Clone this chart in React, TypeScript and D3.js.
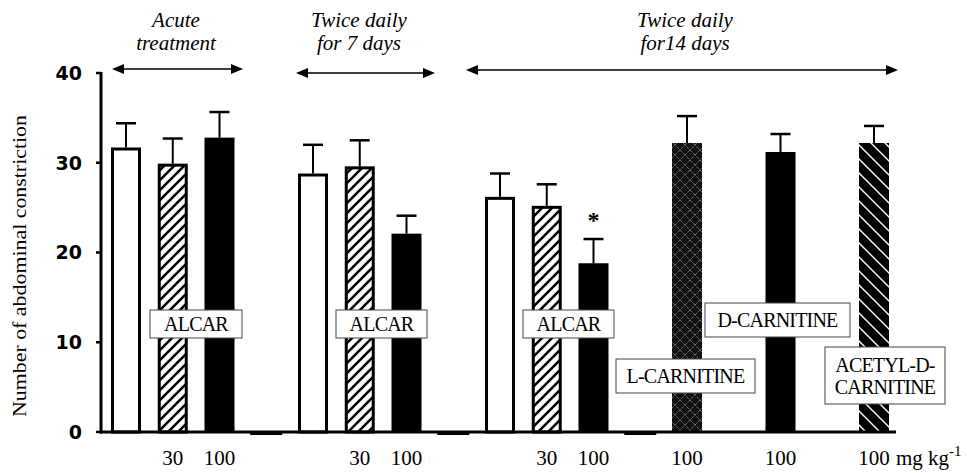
import React from "react";
import * as d3 from "d3";

// ---------- data ----------
const categories = [
  "acute-veh", "acute-30", "acute-100", "gap-1",
  "7d-veh", "7d-30", "7d-100", "gap-2",
  "14d-veh", "14d-30", "14d-100", "gap-3",
  "14d-LC", "gap-4", "14d-DC", "gap-5", "14d-ADC",
];
const barCategories = [
  "acute-veh", "acute-30", "acute-100",
  "7d-veh", "7d-30", "7d-100",
  "14d-veh", "14d-30", "14d-100",
  "14d-LC", "14d-DC", "14d-ADC",
];
const gapCategories = ["gap-1", "gap-2", "gap-3"];
const treatments = [
  "vehicle", "ALCAR30", "ALCAR100",
  "vehicle", "ALCAR30", "ALCAR100",
  "vehicle", "ALCAR30", "ALCAR100",
  "LCAR100", "DCAR100", "ADCAR100",
];
const means = [31.7, 29.9, 32.8, 28.8, 29.6, 22.1, 26.2, 25.2, 18.8, 32.2, 31.2, 32.2];
const sems = [2.7, 2.8, 2.85, 3.2, 2.9, 2.0, 2.6, 2.4, 2.7, 3.0, 2.0, 1.9];
const doseLabels = ["", "30", "100", "", "30", "100", "", "30", "100", "100", "100", "100"];
const significant = [false, false, false, false, false, false, false, false, true, false, false, false];
const yTicks = [0, 10, 20, 30, 40];
const yTitle = "Number of abdominal constriction";
const headers = [
  { lines: ["Acute", "treatment"], cx: 176, x1: 112, x2: 243, ay: 69 },
  { lines: ["Twice daily", "for 7 days"], cx: 359, x1: 296, x2: 435, ay: 73 },
  { lines: ["Twice daily", "for14 days"], cx: 685, x1: 466, x2: 898, ay: 70 },
];
const boxes = [
  { lines: ["ALCAR"], x: 150, y: 310, w: 92, h: 28 },
  { lines: ["ALCAR"], x: 336, y: 310, w: 91, h: 28 },
  { lines: ["ALCAR"], x: 523, y: 310, w: 91, h: 28 },
  { lines: ["L-CARNITINE"], x: 616, y: 359, w: 139, h: 34 },
  { lines: ["D-CARNITINE"], x: 705, y: 303, w: 145, h: 34 },
  { lines: ["ACETYL-D-", "CARNITINE"], x: 825, y: 347, w: 120, h: 57 },
];

// ---------- styles ----------
const fillFor: Record<string, string> = {
  vehicle: "#fff",
  ALCAR30: "url(#hatchFwd)",
  ALCAR100: "#000",
  LCAR100: "url(#cross)",
  DCAR100: "#000",
  ADCAR100: "url(#hatchBack)",
};
const outlined: Record<string, boolean> = { vehicle: true, ALCAR30: true };

const W = 967;
const H = 473;
const SF: React.CSSProperties = { fontFamily: "Liberation Serif" };

export default function App() {
  const x = d3.scalePoint<string>().domain(categories).range([126, 874]);
  const y = d3.scaleLinear().domain([0, 40]).range([432, 73]);
  const bw = 30;

  return (
    <svg width={W} height={H} style={{ position: "absolute", left: 0, top: 0, background: "#fff", fontFamily: "Liberation Serif" }}>
      <defs>
        <pattern id="hatchFwd" patternUnits="userSpaceOnUse" width={10} height={10}>
          <rect width={10} height={10} fill="#fff" />
          <path d="M-2,12 L12,-2 M-7,7 L7,-7 M3,17 L17,3" stroke="#000" strokeWidth={2.6} />
        </pattern>
        <pattern id="hatchBack" patternUnits="userSpaceOnUse" width={14} height={14}>
          <rect width={14} height={14} fill="#000" />
          <path d="M-2,-2 L16,16 M-9,5 L5,19 M5,-9 L19,5" stroke="#fff" strokeWidth={1.4} />
        </pattern>
        <pattern id="cross" patternUnits="userSpaceOnUse" width={10} height={10}>
          <rect width={10} height={10} fill="#111" />
          <path d="M0,0 L10,10 M10,0 L0,10" stroke="#bbb" strokeWidth={0.8} strokeDasharray="1,1" />
        </pattern>
      </defs>

      {/* headers */}
      {headers.map((h, i) => (
        <g key={"h" + i}>
          {h.lines.map((l, j) => (
            <text key={j} x={h.cx} y={27 + j * 23} textAnchor="middle" style={SF}
              fontStyle="italic" fontSize={21} fill="#000">{l}</text>
          ))}
          <line x1={h.x1 + 10} x2={h.x2 - 10} y1={h.ay} y2={h.ay} stroke="#000" strokeWidth={1.6} />
          <path d={`M${h.x1},${h.ay} L${h.x1 + 12},${h.ay - 5} L${h.x1 + 12},${h.ay + 5} Z`} fill="#000" />
          <path d={`M${h.x2},${h.ay} L${h.x2 - 12},${h.ay - 5} L${h.x2 - 12},${h.ay + 5} Z`} fill="#000" />
        </g>
      ))}

      {/* y axis */}
      <line x1={101} x2={101} y1={y(40) - 1} y2={y(0) + 1.5} stroke="#000" strokeWidth={3} />
      {yTicks.map((t) => (
        <g key={"t" + t}>
          <line x1={96} x2={101} y1={y(t)} y2={y(t)} stroke="#000" strokeWidth={2.5} />
          <text x={82} y={y(t)} dy="0.36em" textAnchor="end" style={{ fontFamily: "DejaVu Sans" }}
            fontWeight="bold" fontSize={19} fill="#000">{t}</text>
        </g>
      ))}
      <text transform={`translate(26,266) rotate(-90)`} textAnchor="middle" style={SF}
        fontSize={18} textLength={302} lengthAdjust="spacingAndGlyphs" fill="#000">{yTitle}</text>

      {/* bars */}
      {barCategories.map((c, i) => {
        const cx = x(c) as number;
        const t = treatments[i];
        const top = y(means[i]);
        const et = y(means[i] + sems[i]);
        const ol = outlined[t];
        return (
          <g key={c}>
            <line x1={cx} x2={cx} y1={top} y2={et} stroke="#000" strokeWidth={2} />
            <line x1={cx - 10} x2={cx + 10} y1={et} y2={et} stroke="#000" strokeWidth={2.5} />
            {ol ? (
              <rect x={cx - bw / 2 + 1.5} y={top + 1.5} width={bw - 3} height={y(0) - top - 1.5}
                fill={fillFor[t]} stroke="#000" strokeWidth={3} />
            ) : (
              <rect x={cx - bw / 2} y={top} width={bw} height={y(0) - top} fill={fillFor[t]} />
            )}
            {significant[i] && (
              <text x={cx} y={et - 11} textAnchor="middle" style={SF} fontWeight="bold"
                fontSize={24} fill="#000">*</text>
            )}
            {doseLabels[i] && (
              <text x={cx} y={465} textAnchor="middle" style={SF} fontSize={21} fill="#000">
                {doseLabels[i]}
              </text>
            )}
          </g>
        );
      })}
      <text x={(x("14d-ADC") as number) + 22} y={465} style={SF} fontSize={21} fill="#000">
        mg kg<tspan dy={-9} fontSize={15}>-1</tspan>
      </text>

      {/* baseline */}
      <line x1={100} x2={896} y1={y(0)} y2={y(0)} stroke="#000" strokeWidth={3} />
      {gapCategories.map((g) => (
        <line key={g} x1={(x(g) as number) - 16} x2={(x(g) as number) + 16} y1={y(0) + 1.5} y2={y(0) + 1.5}
          stroke="#000" strokeWidth={3} />
      ))}

      {/* label boxes */}
      {boxes.map((b, i) => (
        <g key={"b" + i}>
          <rect x={b.x} y={b.y} width={b.w} height={b.h} fill="#fff" stroke="#444" strokeWidth={1} />
          {b.lines.map((l, j) => (
            <text key={j} x={b.x + b.w / 2} y={b.y + b.h / 2 + 7 + (j - (b.lines.length - 1) / 2) * 22}
              textAnchor="middle" style={SF} fontSize={20} letterSpacing={-0.8} fill="#000">{l}</text>
          ))}
        </g>
      ))}
    </svg>
  );
}
